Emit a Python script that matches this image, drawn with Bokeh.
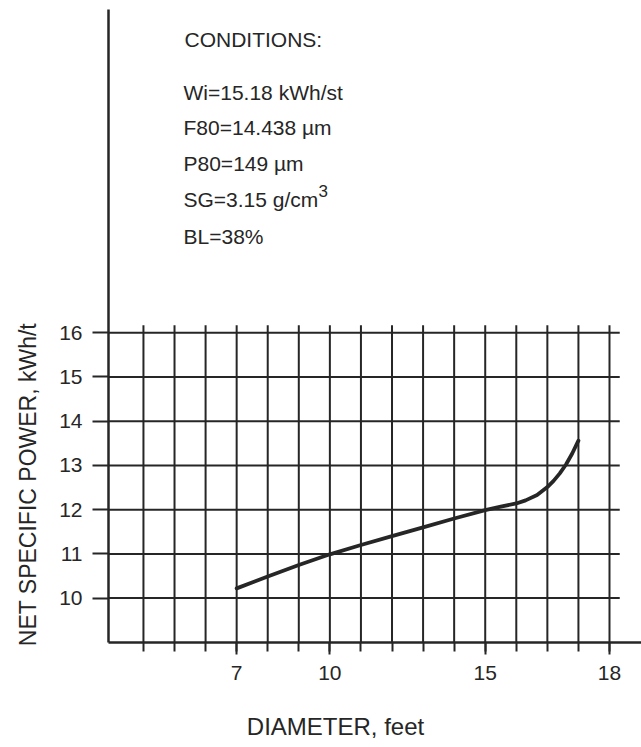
import math
from bokeh.plotting import figure
from bokeh.models import FixedTicker, Label, ColumnDataSource
from bokeh.embed import file_html
from bokeh.resources import INLINE

# ---- data ----
diameter_ft = [7, 8, 9, 10, 11, 12, 13, 14, 15, 15.5, 16, 16.3, 16.67, 17.0, 17.2, 17.4, 17.6, 17.8, 18.0]
net_power = [10.22, 10.49, 10.75, 10.99, 11.2, 11.4, 11.6, 11.8, 11.99, 12.07, 12.14, 12.21,
             12.33, 12.51, 12.65, 12.82, 13.02, 13.27, 13.56]

x_tick_positions = [7, 10, 15, 19]
x_tick_labels = ["7", "10", "15", "18"]
x_grid_positions = [4, 5, 6, 7, 8, 9, 10, 11, 12, 13, 14, 15, 16, 17, 18, 19]
y_tick_positions = [10, 11, 12, 13, 14, 15, 16]

conditions_title = "CONDITIONS:"
conditions = ["Wi=15.18 kWh/st", "F80=14.438 \u00b5m", "P80=149 \u00b5m", "SG=3.15 g/cm", "BL=38%"]
x_axis_title = "DIAMETER, feet"
y_axis_title = "NET SPECIFIC POWER, kWh/t"

INK = "#262626"
FONT = "Liberation Sans"
W, H = 641, 747
X0, X1 = 2.875, 20.03      # data extent of the chart area
Y0, Y1 = 9.0, 23.31

# frame covers the whole canvas; axes are pinned at the chart's left/bottom edges
p = figure(width=W, height=H, x_range=(-0.601, 20.03), y_range=(6.623, 23.51),
           output_backend="svg", toolbar_location=None,
           min_border_left=0, min_border_right=0, min_border_top=0, min_border_bottom=0)
p.outline_line_color = None
p.grid.visible = False
p.background_fill_color = "white"
p.border_fill_color = "white"

# grid drawn only over the data area
gtop = 16.17
p.segment(x0=x_grid_positions, y0=[Y0] * len(x_grid_positions),
          x1=x_grid_positions, y1=[gtop] * len(x_grid_positions),
          line_color=INK, line_width=2)
p.segment(x0=[X0] * len(y_tick_positions), y0=y_tick_positions,
          x1=[19.33] * len(y_tick_positions), y1=y_tick_positions,
          line_color=INK, line_width=2)

src = ColumnDataSource(dict(x=diameter_ft, y=net_power))
p.line("x", "y", source=src, line_color=INK, line_width=3.8, line_cap="round", line_join="round")

# axes
xa = p.xaxis[0]
xa.fixed_location = Y0
xa.bounds = (X0, X1)
xa.ticker = FixedTicker(ticks=x_tick_positions, minor_ticks=x_grid_positions)
xa.major_label_overrides = {pos: lab for pos, lab in zip(x_tick_positions, x_tick_labels)}
xa.axis_line_width = 2.5
xa.axis_line_color = INK
xa.major_tick_line_color = INK
xa.minor_tick_line_color = INK
xa.major_tick_line_width = 2
xa.minor_tick_line_width = 2
xa.major_tick_in = 0
xa.major_tick_out = 12
xa.minor_tick_in = 0
xa.minor_tick_out = 9
xa.major_label_standoff = 12
xa.major_label_text_font = FONT
xa.major_label_text_font_size = "21px"
xa.major_label_text_color = INK

ya = p.yaxis[0]
ya.fixed_location = X0
ya.bounds = (Y0, Y1)
ya.ticker = FixedTicker(ticks=y_tick_positions, minor_ticks=[])
ya.axis_line_width = 2.5
ya.axis_line_color = INK
ya.major_tick_line_color = INK
ya.major_tick_line_width = 2
ya.major_tick_in = 0
ya.major_tick_out = 16
ya.minor_tick_out = 0
ya.major_label_standoff = 10
ya.major_label_text_font = FONT
ya.major_label_text_font_size = "21px"
ya.major_label_text_color = INK


def add_label(text, px, py, size, angle=0.0, align="left", baseline="alphabetic"):
    # px, py: pixel position measured from the top-left of the canvas
    p.add_layout(Label(x=px, y=H - py, x_units="screen", y_units="screen",
                       text=text, angle=angle, text_align=align, text_baseline=baseline,
                       text_font=FONT, text_font_size=size, text_color=INK))


add_label(conditions_title, 184, 39, "21px")
baselines = [92, 127, 163, 199, 236]
for txt, by in zip(conditions, baselines):
    add_label(txt, 183, by, "21px")
add_label("3", 183 + 135, 190, "17px")   # superscript of cm3

add_label(x_axis_title, 335, 726, "24px", align="center", baseline="middle")
add_label(y_axis_title, 27, 484, "23px", angle=math.pi / 2, align="center", baseline="middle")

open("out.html", "w").write(file_html(p, INLINE))
